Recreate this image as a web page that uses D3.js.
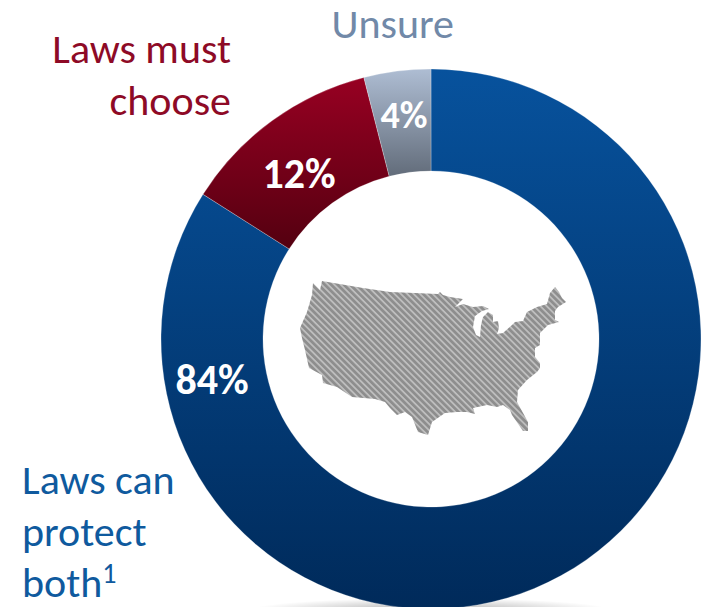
<!DOCTYPE html>
<html><head><meta charset="utf-8">
<script src="https://cdn.jsdelivr.net/npm/d3@7"></script>
<style>html,body{margin:0;padding:0;background:#fff;overflow:hidden}svg{display:block}text{font-family:Carlito,Lato,"Open Sans",sans-serif}</style>
</head><body><div id="chart"></div>
<script>
const categories = ["Laws can protect both", "Laws must choose", "Unsure"];
const values = [84, 12, 4];
const valueLabels = ["84%", "12%", "4%"];
const gradTop = ["#07529d", "#970022", "#aebdd3"];
const gradBottom = ["#002a5a", "#540010", "#626c7a"];
const mapOutline = [[322,281],[363,288],[390,292],[415,293],[438,294],[440,292],[443,295],[450,297],[463,299],[455,307],[463,304],[473,307],[483,306],[489,309],[482,311],[475,316],[473,327],[476,335],[480,337],[481,325],[483,317],[488,312],[493,315],[493,322],[498,321],[499,328],[497,334],[503,333],[512,325],[515,322],[523,321],[527,312],[537,307],[547,304],[550,293],[555,287],[559,292],[562,298],[566,302],[558,307],[555,311],[555,320],[559,322],[548,325],[540,333],[540,345],[535,348],[535,357],[540,363],[540,368],[537,372],[527,380],[518,390],[517,402],[528,422],[528,431],[523,431],[512,415],[510,410],[503,405],[497,407],[487,405],[473,408],[475,414],[467,412],[457,412],[445,413],[432,422],[428,435],[418,432],[412,417],[405,412],[397,415],[390,408],[385,402],[375,399],[352,397],[337,387],[323,383],[322,375],[309,368],[305,350],[302,338],[300,328],[307,312],[312,295],[313,283],[320,290]];

const W = 702, H = 607, cx = 431, cy = 339, R = 270, r = 168;
const svg = d3.select("#chart").append("svg").attr("width", W).attr("height", H);
const defs = svg.append("defs");
const slices = d3.pie().sort(null)(values);
const arc = d3.arc().innerRadius(r).outerRadius(R);

const shadow = defs.append("radialGradient").attr("id", "shadow");
shadow.append("stop").attr("offset", "0%").attr("stop-color", "#000").attr("stop-opacity", 0.32);
shadow.append("stop").attr("offset", "100%").attr("stop-color", "#000").attr("stop-opacity", 0);
svg.append("ellipse").attr("cx", cx).attr("cy", 610).attr("rx", 180).attr("ry", 12).attr("fill", "url(#shadow)");

slices.forEach((s, i) => {
  const g = defs.append("linearGradient").attr("id", "g" + i)
    .attr("gradientUnits", "objectBoundingBox").attr("x1", 0).attr("y1", 0).attr("x2", 0).attr("y2", 1);
  g.append("stop").attr("offset", "0%").attr("stop-color", gradTop[i]);
  g.append("stop").attr("offset", "100%").attr("stop-color", gradBottom[i]);
});

const plot = svg.append("g").attr("transform", `translate(${cx},${cy})`);
plot.selectAll("path").data(slices).join("path")
  .attr("d", arc).attr("fill", (d, i) => `url(#g${i})`)
  .attr("stroke", "#fff").attr("stroke-width", 0.5).attr("stroke-opacity", 0.5);

const pattern = defs.append("pattern").attr("id", "stripes").attr("patternUnits", "userSpaceOnUse")
  .attr("width", 4.5).attr("height", 4.5).attr("patternTransform", "rotate(45)");
pattern.append("rect").attr("width", 4.5).attr("height", 4.5).attr("fill", "#8e8e8e");
pattern.append("rect").attr("width", 4.5).attr("height", 1.7).attr("fill", "#c0c0c0");

svg.append("path").attr("d", d3.line().curve(d3.curveLinearClosed)(mapOutline))
  .attr("fill", "url(#stripes)");

const pctPos = [[212, 380, 42], [299, 174, 42], [404, 115, 38]];
svg.selectAll("text.pct").data(valueLabels).join("text").attr("class", "pct")
  .attr("x", (d, i) => pctPos[i][0]).attr("y", (d, i) => pctPos[i][1]).attr("dy", "0.33em")
  .attr("text-anchor", "middle").attr("font-weight", 700).attr("font-size", (d, i) => pctPos[i][2])
  .attr("fill", "#fff").text(d => d);

const labels = [
  {t: "Laws can", x: 22, y: 494, c: "#0f5a9e", a: "start"},
  {t: "protect", x: 22, y: 546, c: "#0f5a9e", a: "start"},
  {t: "both", x: 22, y: 597, c: "#0f5a9e", a: "start", sup: "1"},
  {t: "Laws must", x: 231, y: 63, c: "#8e0a26", a: "end"},
  {t: "choose", x: 231, y: 115, c: "#8e0a26", a: "end"},
  {t: "Unsure", x: 454, y: 38, c: "#7189a8", a: "end"}
];
labels.forEach(l => {
  const t = svg.append("text").attr("x", l.x).attr("y", l.y).attr("fill", l.c)
    .attr("text-anchor", l.a).attr("font-size", 42).text(l.t);
  if (l.sup) t.append("tspan").attr("font-size", 28).attr("dy", -14).text(l.sup);
});
</script></body></html>
